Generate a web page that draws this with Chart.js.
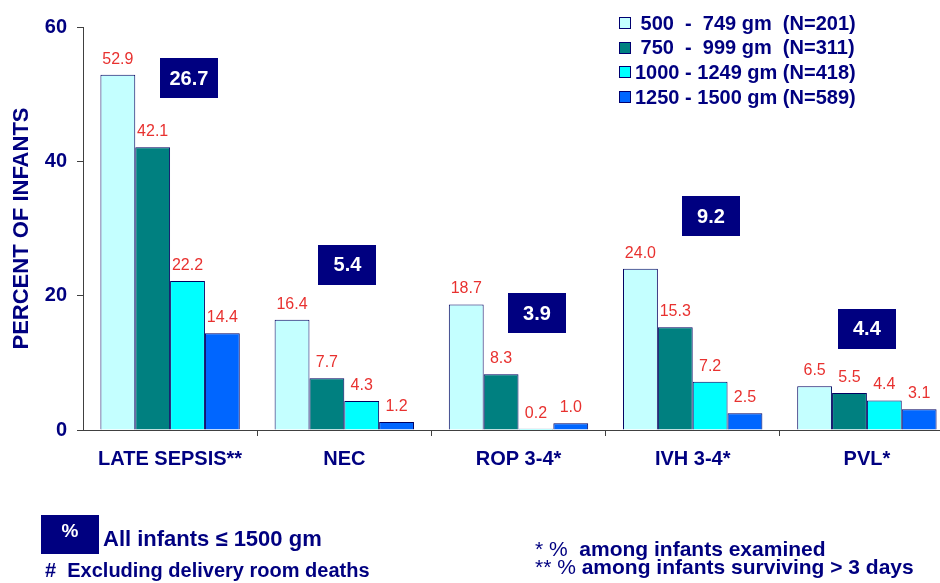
<!DOCTYPE html>
<html>
<head>
<meta charset="utf-8">
<title>Morbidity by birth weight</title>
<script src="https://cdn.jsdelivr.net/npm/chart.js@4/dist/chart.umd.min.js"></script>
<style>
  html, body { margin: 0; padding: 0; background: #fff; overflow: hidden; }
  body { width: 940px; height: 583px; position: relative; font-family: "Liberation Sans", Arial, sans-serif; color: #000080; }
  #wrap { position: absolute; left: 0; top: 0; width: 960px; height: 583px; }
  #legend { position: absolute; left: 619px; top: 10.6px; }
  .row { height: 24.7px; line-height: 24.7px; white-space: pre; font-weight: bold; font-size: 20px; position: relative; padding-left: 16px; }
  .row .sw { position: absolute; left: 0; top: 6.5px; width: 10px; height: 10px; border: 1px solid #000070; }
  .note { position: absolute; white-space: pre; font-weight: bold; line-height: 1; }
  .thin { font-weight: normal; }
  #pctBox { position: absolute; left: 41px; top: 515px; width: 58px; height: 39px; background: #000080; }
</style>
</head>
<body>
<div id="wrap"><canvas id="chart" width="960" height="583"></canvas></div>
<div id="legend"></div>

<div id="pctBox"></div>
<div class="note" style="left:41px;top:521px;width:58px;text-align:center;font-size:19px;color:#fff">%</div>
<div class="note" style="left:103px;top:528.4px;font-size:22px">All infants ≤ 1500 gm</div>
<div class="note" style="left:45px;top:560px;font-size:20px">#  Excluding delivery room deaths</div>
<div class="note" style="left:535px;top:537.5px;font-size:21px"><span class="thin">* %</span>  among infants examined</div>
<div class="note" style="left:535px;top:555.5px;font-size:21px"><span class="thin">** %</span> among infants surviving &gt; 3 days</div>

<script>
// --- data
const categories = ['LATE SEPSIS**', 'NEC', 'ROP 3-4*', 'IVH 3-4*', 'PVL*'];
const groupLabels = [' 500  -  749 gm  (N=201)', ' 750  -  999 gm  (N=311)', '1000 - 1249 gm (N=418)', '1250 - 1500 gm (N=589)'];
const w500  = [52.9, 16.4, 18.7, 24.0, 6.5];
const w750  = [42.1, 7.7, 8.3, 15.3, 5.5];
const w1000 = [22.2, 4.3, 0.2, 7.2, 4.4];
const w1250 = [14.4, 1.2, 1.0, 2.5, 3.1];
const allInfants = [26.7, 5.4, 3.9, 9.2, 4.4];   // all infants <= 1500 gm
const yTicks = [0, 20, 40, 60];

// where the "all infants" boxes sit: y in data units, x shift as share of category width
const boxY = [52.4, 24.6, 17.4, 31.8, 15.1];
const boxShift = [0.108, 0.018, 0.106, 0.105, 0];

const NAVY = '#000080';
const RED = '#e8312f';
const AXIS = '#404040';
const FONT = '"Liberation Sans", Arial, sans-serif';
const colors = ['#c4ffff', '#008080', '#00ffff', '#0066ff'];

// red numbers above every bar
const valueLabels = {
  id: 'valueLabels',
  afterDatasetsDraw(chart) {
    const ctx = chart.ctx;
    ctx.save();
    ctx.font = '16px ' + FONT;
    ctx.fillStyle = RED;
    ctx.textAlign = 'center';
    ctx.textBaseline = 'alphabetic';
    chart.data.datasets.forEach((ds, i) => {
      chart.getDatasetMeta(i).data.forEach((bar, j) => {
        ctx.fillText(ds.data[j].toFixed(1), bar.x, bar.y - 11);
      });
    });
    ctx.restore();
  }
};

// navy boxes with the overall percentage per category
const totalBoxes = {
  id: 'totalBoxes',
  afterDraw(chart) {
    const ctx = chart.ctx;
    const xs = chart.scales.x, ys = chart.scales.y;
    const catW = xs.getPixelForValue(1) - xs.getPixelForValue(0);
    const w = 58, h = 40;
    ctx.save();
    allInfants.forEach((v, j) => {
      const cx = xs.getPixelForValue(j) + boxShift[j] * catW;
      const cy = ys.getPixelForValue(boxY[j]);
      ctx.fillStyle = NAVY;
      ctx.fillRect(Math.round(cx - w / 2), Math.round(cy - h / 2), w, h);
      ctx.fillStyle = '#fff';
      ctx.font = 'bold 20px ' + FONT;
      ctx.textAlign = 'center';
      ctx.textBaseline = 'middle';
      ctx.fillText(v.toFixed(1), cx, cy + 1);
    });
    ctx.restore();
  }
};

const seriesData = [w500, w750, w1000, w1250];

const chart = new Chart(document.getElementById('chart').getContext('2d'), {
  type: 'bar',
  data: {
    labels: categories,
    datasets: seriesData.map((d, i) => ({
      label: groupLabels[i],
      data: d,
      backgroundColor: colors[i],
      borderColor: '#000060',
      borderWidth: 1,
      barPercentage: 1.0,
      categoryPercentage: 0.8
    }))
  },
  options: {
    responsive: false,
    animation: false,
    layout: { padding: { top: 27, right: 6, left: 0, bottom: 0 } },
    plugins: { legend: { display: false }, tooltip: { enabled: false } },
    scales: {
      x: {
        grid: {
          drawOnChartArea: false,
          tickLength: 6,
          color: c => c.index === 0 ? 'rgba(0,0,0,0)' : AXIS
        },
        border: { color: AXIS, width: 1 },
        ticks: { color: NAVY, font: { family: FONT, size: 20, weight: 'bold' }, padding: 11, maxRotation: 0, autoSkip: false },
        afterFit: s => { s.height = 153; }
      },
      y: {
        min: 0, max: 60,
        afterBuildTicks: s => { s.ticks = yTicks.map(v => ({ value: v })); },
        grid: { drawOnChartArea: false, tickLength: 6, color: AXIS },
        border: { color: AXIS, width: 1 },
        ticks: { color: NAVY, font: { family: FONT, size: 20, weight: 'bold' }, padding: 10 },
        title: { display: true, text: 'PERCENT OF INFANTS', color: NAVY, font: { family: FONT, size: 22, weight: 'bold' }, padding: { top: 9, bottom: 0 } },
        afterFit: s => { s.width = 83; }
      }
    }
  },
  plugins: [valueLabels, totalBoxes]
});

// legend built from the datasets
const legend = document.getElementById('legend');
chart.data.datasets.forEach(ds => {
  const row = document.createElement('div');
  row.className = 'row';
  const sw = document.createElement('span');
  sw.className = 'sw';
  sw.style.background = ds.backgroundColor;
  row.appendChild(sw);
  row.appendChild(document.createTextNode(ds.label));
  legend.appendChild(row);
});
</script>
</body>
</html>
